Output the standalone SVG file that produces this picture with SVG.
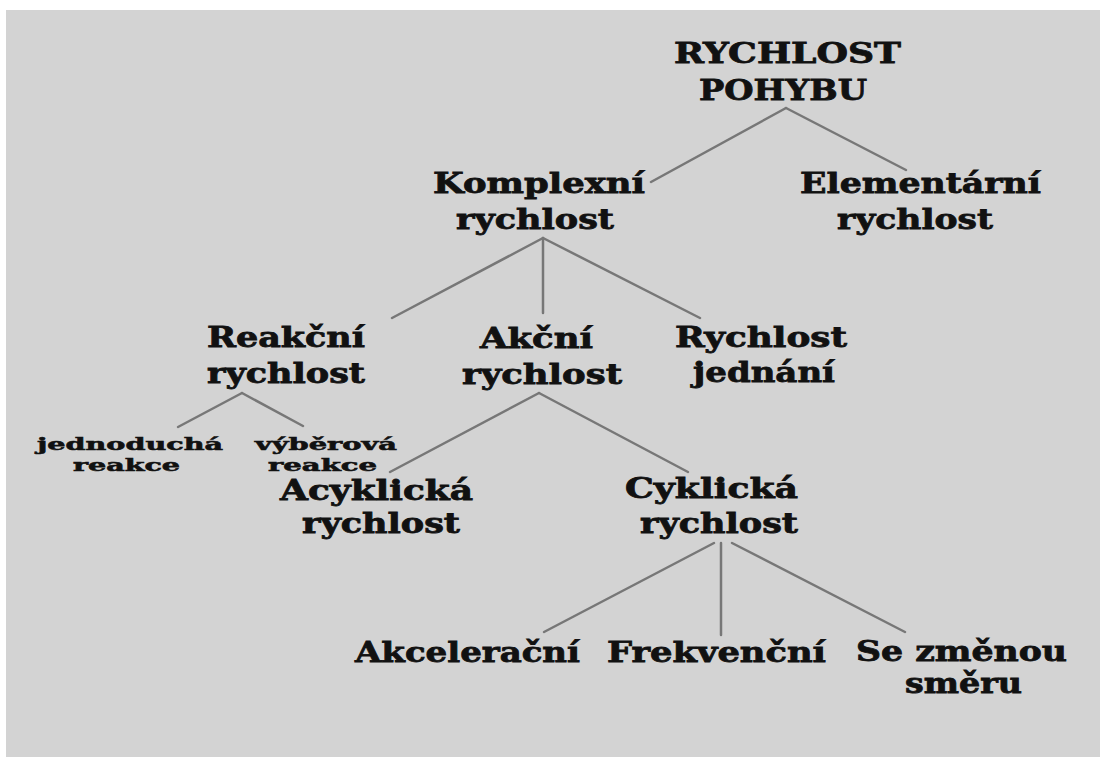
<svg xmlns="http://www.w3.org/2000/svg" width="1100" height="758" viewBox="0 0 1100 758">
<style>
.t{font-family:"DejaVu Serif","Liberation Serif",serif;font-weight:bold;font-size:28px;fill:#111;stroke:#111;stroke-width:0.8}
.s{font-family:"DejaVu Serif","Liberation Serif",serif;font-weight:bold;font-size:17px;fill:#111;stroke:#111;stroke-width:0.6}
.c line{stroke:#777;stroke-width:2.5;stroke-linecap:round}
</style>
<rect x="0" y="0" width="1100" height="758" fill="#ffffff"/>
<rect x="6" y="10" width="1094" height="747" fill="#d3d3d3"/>
<g class="c" id="connectors">
<line x1="786" y1="108" x2="651" y2="182"/>
<line x1="786" y1="108" x2="906" y2="170"/>
<line x1="543" y1="238" x2="392" y2="318"/>
<line x1="543" y1="238" x2="543" y2="313"/>
<line x1="543" y1="238" x2="700" y2="318"/>
<line x1="242" y1="393" x2="178" y2="427"/>
<line x1="242" y1="393" x2="303" y2="426"/>
<line x1="539" y1="393" x2="390" y2="472"/>
<line x1="539" y1="393" x2="688" y2="472"/>
<line x1="714" y1="543" x2="544" y2="632"/>
<line x1="721" y1="543" x2="721" y2="635"/>
<line x1="732" y1="543" x2="905" y2="632"/>
</g>
<g id="root"><text class="t" x="674" y="63" textLength="227" lengthAdjust="spacingAndGlyphs">RYCHLOST</text><text class="t" x="699" y="100" textLength="168" lengthAdjust="spacingAndGlyphs">POHYBU</text></g>
<g id="komplexni"><text class="t" x="433" y="193" textLength="212" lengthAdjust="spacingAndGlyphs">Komplexní</text><text class="t" x="456" y="229" textLength="158" lengthAdjust="spacingAndGlyphs">rychlost</text></g>
<g id="elementarni"><text class="t" x="800" y="193" textLength="241" lengthAdjust="spacingAndGlyphs">Elementární</text><text class="t" x="837" y="229" textLength="156" lengthAdjust="spacingAndGlyphs">rychlost</text></g>
<g id="reakcni"><text class="t" x="207" y="347" textLength="158" lengthAdjust="spacingAndGlyphs">Reakční</text><text class="t" x="207" y="383" textLength="158" lengthAdjust="spacingAndGlyphs">rychlost</text></g>
<g id="akcni"><text class="t" x="480" y="348" textLength="113" lengthAdjust="spacingAndGlyphs">Akční</text><text class="t" x="462" y="384" textLength="160" lengthAdjust="spacingAndGlyphs">rychlost</text></g>
<g id="jednani"><text class="t" x="675" y="347" textLength="172" lengthAdjust="spacingAndGlyphs">Rychlost</text><text class="t" x="693" y="382" textLength="142" lengthAdjust="spacingAndGlyphs">jednání</text></g>
<g id="jednoducha"><text class="s" x="37" y="450" textLength="186" lengthAdjust="spacingAndGlyphs">jednoduchá</text><text class="s" x="73" y="471" textLength="107" lengthAdjust="spacingAndGlyphs">reakce</text></g>
<g id="vyberova"><text class="s" x="255" y="450" textLength="142" lengthAdjust="spacingAndGlyphs">výběrová</text><text class="s" x="268" y="471" textLength="109" lengthAdjust="spacingAndGlyphs">reakce</text></g>
<g id="acyklicka"><text class="t" x="280" y="500" textLength="193" lengthAdjust="spacingAndGlyphs">Acyklická</text><text class="t" x="302" y="533" textLength="158" lengthAdjust="spacingAndGlyphs">rychlost</text></g>
<g id="cyklicka"><text class="t" x="625" y="498" textLength="173" lengthAdjust="spacingAndGlyphs">Cyklická</text><text class="t" x="640" y="533" textLength="158" lengthAdjust="spacingAndGlyphs">rychlost</text></g>
<g id="akceleracni"><text class="t" x="355" y="662" textLength="225" lengthAdjust="spacingAndGlyphs">Akcelerační</text></g>
<g id="frekvencni"><text class="t" x="607" y="662" textLength="219" lengthAdjust="spacingAndGlyphs">Frekvenční</text></g>
<g id="smer"><text class="t" x="856" y="661" textLength="211" lengthAdjust="spacingAndGlyphs">Se změnou</text><text class="t" x="905" y="693" textLength="117" lengthAdjust="spacingAndGlyphs">směru</text></g>
</svg>
